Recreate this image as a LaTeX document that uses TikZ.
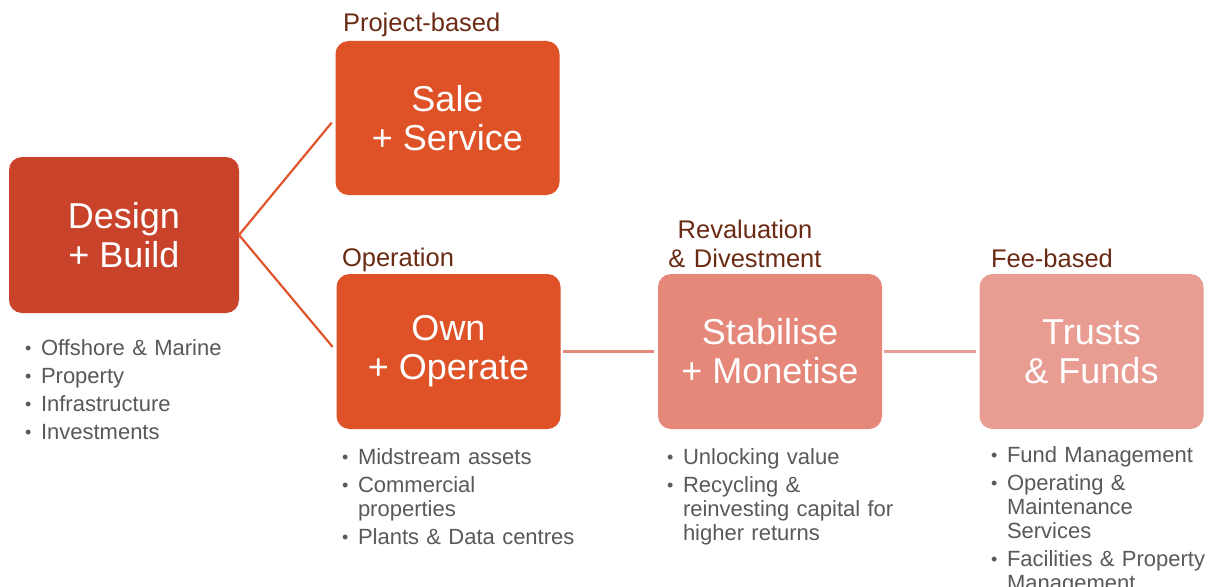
\documentclass[tikz,border=0pt]{standalone}
\usepackage{fontspec}
\setmainfont{Liberation Sans}
\definecolor{cDesign}{HTML}{C8432A}
\definecolor{cOrange}{HTML}{DF5127}
\definecolor{cSalmon}{HTML}{E5887A}
\definecolor{cPink}{HTML}{E99D92}
\definecolor{cHead}{HTML}{6B2A14}
\definecolor{cText}{HTML}{595959}
\definecolor{cLine}{HTML}{E0552B}
\newcommand{\bul}[1]{\noindent\hangindent=16pt\hangafter=1\makebox[16pt][l]{\raisebox{1pt}{\fontsize{18}{18}\selectfont\textbullet}}#1\par}
\begin{document}
\begin{tikzpicture}[x=1pt,y=-1pt,
  box/.style={rounded corners=13pt, inner sep=0pt, outer sep=0pt, text=white, align=center,
    font=\fontsize{36}{39}\selectfont, minimum width=224pt, minimum height=155pt},
  head/.style={inner sep=0pt, outer sep=0pt, text=cHead, font=\fontsize{25.5}{29}\selectfont},
  blist/.style={inner sep=0pt, outer sep=0pt, text=cText, anchor=base west, text width=260pt, align=left,
    font=\fontsize{22}{24}\selectfont\setlength{\parskip}{4pt}},
  diag/.style={draw=cLine, line width=2.2pt, shorten >=6pt},
  hline/.style={line width=3.6pt, shorten <=2pt, shorten >=4pt}]
\useasboundingbox (0,0) rectangle (1217,586);
\fill[white] (0,0) rectangle (1217,586);

\node[box, fill=cDesign, minimum width=230pt, minimum height=156pt] (d) at (124,235) {Design\\+ Build};
\node[box, fill=cOrange, minimum height=154pt] (s) at (447.5,118) {Sale\\+ Service};
\node[box, fill=cOrange] (o) at (448.5,351.5) {Own\\+ Operate};
\node[box, fill=cSalmon] (m) at (770,351.5) {Stabilise\\+ Monetise};
\node[box, fill=cPink] (t) at (1091.5,351.5) {Trusts\\\& Funds};

\draw[diag] (d.east) -- (s.west);
\draw[diag] (d.east) -- (o.west);
\draw[hline, draw=cSalmon] (o.east) -- (m.west);
\draw[hline, draw=cPink] (m.east) -- (t.west);

\node[head, anchor=base west] (hs) at (343,32) {Project-based};
\node[head, anchor=base west] (ho) at (342,266) {Operation};
\node[head, anchor=base, text width=180pt, align=center] (hm) at (745,238) {Revaluation\\\& Divestment};
\node[head, anchor=base west] (ht) at (991,267) {Fee-based};

\node[blist] (ld) at (25,355) {\bul{Offshore \& Marine}\bul{Property}\bul{Infrastructure}\bul{Investments}};
\node[blist] (lo) at (342,464) {\bul{Midstream assets}\bul{Commercial\newline properties}\bul{Plants \& Data centres}};
\node[blist] (lm) at (667,464) {\bul{Unlocking value}\bul{Recycling \&\newline reinvesting capital for\newline higher returns}};
\node[blist] (lt) at (991,462) {\bul{Fund Management}\bul{Operating \&\newline Maintenance\newline Services}\bul{Facilities \& Property\newline Management}};
\end{tikzpicture}
\end{document}
